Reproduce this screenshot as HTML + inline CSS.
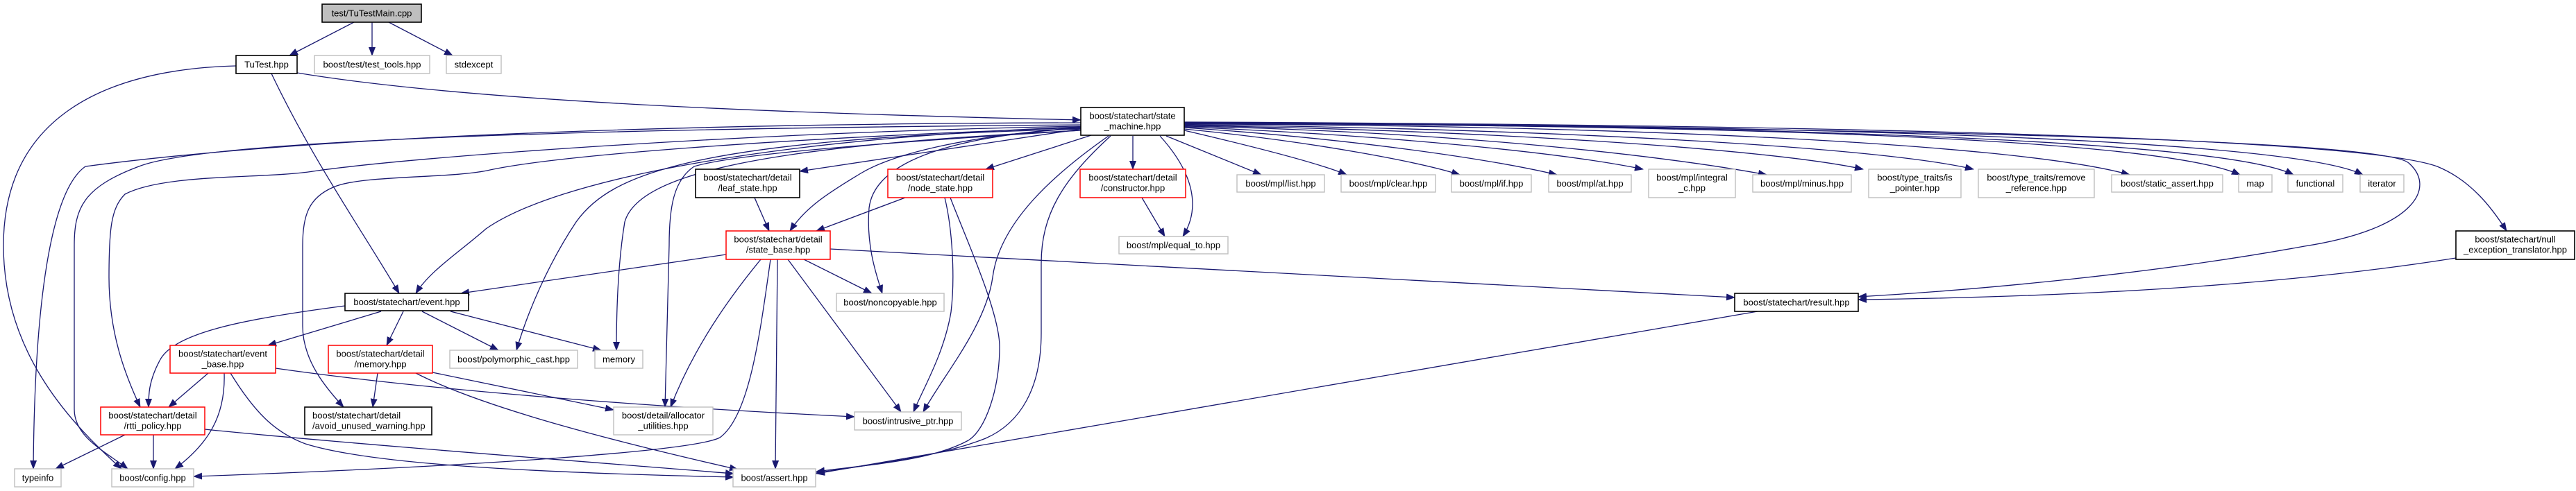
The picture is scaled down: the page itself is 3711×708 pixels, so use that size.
<!DOCTYPE html>
<html><head><meta charset="utf-8"><style>
html,body{margin:0;padding:0;background:#fff;}
svg{display:block;}
text{font-family:"Liberation Sans",sans-serif;font-size:13px;fill:#000;text-anchor:middle;}
.e{fill:none;stroke:#191970;stroke-width:1.3;marker-end:url(#a);}
.k{fill:#fff;stroke:#000;stroke-width:1.6;}
.g{fill:#fff;stroke:#bfbfbf;stroke-width:1.4;}
.r{fill:#fff;stroke:#ff0000;stroke-width:1.5;}
</style></head><body>
<svg width="3711" height="708" viewBox="0 0 3711 708" xmlns="http://www.w3.org/2000/svg">
<defs><marker id="a" markerWidth="13" markerHeight="10" refX="12" refY="5" orient="auto" markerUnits="userSpaceOnUse"><path d="M0,0 L13,5 L0,10z" fill="#191970"/></marker></defs>
<g>
<path class="e" d="M510,32 L417,80"/>
<path class="e" d="M536,32 L536,80"/>
<path class="e" d="M560,32 L652,80"/>
<path class="e" d="M428,105 C700,150 1200,165 1557,173"/>
<path class="e" d="M391,106 C450,230 520,330 575,423"/>
<path class="e" d="M340,95 C150,100 5,170 5,354 C5,500 90,600 175,676"/>
<path class="e" d="M1557,177 C1100,178 500,190 123,240 C80,270 50,400 48,676"/>
<path class="e" d="M1557,180 C900,185 300,200 200,240 C120,270 107,300 107,354 L107,590 C107,630 150,650 184,676"/>
<path class="e" d="M1557,182 C1100,190 600,225 451,247 C380,258 237,250 180,280 C160,300 157,330 157,400 C157,480 180,540 202,587"/>
<path class="e" d="M1557,184 C1100,200 800,225 706,245 C650,258 520,252 480,270 C445,285 436,310 436,354 L436,470 C436,520 470,560 495,587"/>
<path class="e" d="M1557,183 C1100,200 800,260 700,330 C660,365 620,390 599,423"/>
<path class="e" d="M1557,186 C1000,200 880,250 830,320 C790,380 760,450 744,505"/>
<path class="e" d="M1557,188 C1100,210 920,250 900,320 C890,380 888,450 888,505"/>
<path class="e" d="M1557,188 C1200,210 1050,225 1000,240 C970,260 964,300 964,354 L958,587"/>
<path class="e" d="M1557,186 L1152,247"/>
<path class="e" d="M1557,184 C1400,195 1290,220 1240,250 C1190,280 1160,300 1138,333"/>
<path class="e" d="M1557,185 C1380,195 1260,230 1252,300 C1248,350 1260,390 1271,423"/>
<path class="e" d="M1572,195 L1420,244"/>
<path class="e" d="M1597,196 C1520,250 1440,320 1430,400 C1420,470 1360,540 1330,594"/>
<path class="e" d="M1600,196 C1530,260 1500,310 1500,380 L1500,480 C1500,560 1470,610 1420,632 C1350,660 1250,670 1176,682"/>
<path class="e" d="M1632,196 L1632,244"/>
<path class="e" d="M1671,196 C1720,250 1730,300 1704,341"/>
<path class="e" d="M1680,196 L1817,252"/>
<path class="e" d="M1706,188 C1800,210 1900,235 1940,252"/>
<path class="e" d="M1706,186 C1900,205 2050,235 2103,252"/>
<path class="e" d="M1706,184 C1950,200 2150,230 2243,252"/>
<path class="e" d="M1706,183 C2000,195 2250,220 2367,244"/>
<path class="e" d="M1706,182 C2100,190 2400,225 2545,252"/>
<path class="e" d="M1706,181 C2150,188 2550,215 2684,244"/>
<path class="e" d="M1706,180 C2200,185 2700,210 2843,244"/>
<path class="e" d="M1706,179 C2300,180 2900,205 3068,252"/>
<path class="e" d="M1706,178 C2400,180 3100,195 3227,252"/>
<path class="e" d="M1706,178 C2500,180 3200,200 3304,252"/>
<path class="e" d="M1706,177 C2600,180 3300,200 3404,252"/>
<path class="e" d="M1706,176 C2700,180 3400,200 3511,240 C3560,260 3590,300 3611,333"/>
<path class="e" d="M1706,177 C2700,185 3430,200 3470,235 C3510,270 3480,330 3320,355 C3100,395 2850,418 2677,428"/>
<path class="e" d="M3538,372 C3300,410 3000,428 2677,432"/>
<path class="e" d="M1196,359 L2499,429"/>
<path class="e" d="M1046,367 L664,423"/>
<path class="e" d="M1158,374 L1256,423"/>
<path class="e" d="M1135,374 L1298,594"/>
<path class="e" d="M1120,374 L1117,676"/>
<path class="e" d="M1096,374 C1050,430 1000,500 966,587"/>
<path class="e" d="M1110,374 C1095,480 1080,600 1037,631 C1000,650 700,672 279,687"/>
<path class="e" d="M1087,285 L1108,333"/>
<path class="e" d="M1304,285 L1176,333"/>
<path class="e" d="M1361,285 C1372,330 1376,400 1370,450 C1360,510 1330,560 1316,594"/>
<path class="e" d="M1369,285 C1390,340 1440,450 1440,500 C1440,560 1420,620 1395,635 C1340,665 1250,670 1176,680"/>
<path class="e" d="M1645,285 L1678,341"/>
<path class="e" d="M549,449 L386,498"/>
<path class="e" d="M581,449 L557,498"/>
<path class="e" d="M608,449 L718,505"/>
<path class="e" d="M649,449 L866,505"/>
<path class="e" d="M497,441 C350,460 250,480 230,520 C214,550 214,570 214,587"/>
<path class="e" d="M300,538 L243,587"/>
<path class="e" d="M323,538 C325,600 300,640 252,676"/>
<path class="e" d="M332,538 C370,600 400,625 440,640 C520,665 700,680 1057,688"/>
<path class="e" d="M397,531 C600,560 900,585 1231,601"/>
<path class="e" d="M544,538 L537,587"/>
<path class="e" d="M623,537 L884,591"/>
<path class="e" d="M599,538 C700,590 900,640 1063,677"/>
<path class="e" d="M180,627 L80,676"/>
<path class="e" d="M221,627 L221,676"/>
<path class="e" d="M295,619 C500,640 900,670 1057,683"/>
<path class="e" d="M2532,449 L1176,683"/>
</g>
<g>
<rect x="464" y="6" width="143" height="26" class="k" style="fill:#bfbfbf"/><text x="535.5" y="23.5">test/TuTestMain.cpp</text>
<rect x="340" y="80" width="88" height="26" class="k"/><text x="384" y="97.5">TuTest.hpp</text>
<rect x="453" y="80" width="166" height="26" class="g"/><text x="536" y="97.5">boost/test/test_tools.hpp</text>
<rect x="643" y="80" width="79" height="26" class="g"/><text x="682.5" y="97.5">stdexcept</text>
<rect x="1557" y="155" width="149" height="40" class="k"/><text x="1631.5" y="171.5">boost/statechart/state</text><text x="1631.5" y="186.5">_machine.hpp</text>
<rect x="1002" y="244" width="150" height="41" class="k"/><text x="1077" y="260.5">boost/statechart/detail</text><text x="1077" y="275.5">/leaf_state.hpp</text>
<rect x="1279" y="244" width="151" height="41" class="r"/><text x="1354.5" y="260.5">boost/statechart/detail</text><text x="1354.5" y="275.5">/node_state.hpp</text>
<rect x="1556" y="244" width="152" height="41" class="r"/><text x="1632" y="260.5">boost/statechart/detail</text><text x="1632" y="275.5">/constructor.hpp</text>
<rect x="1782" y="252" width="126" height="25" class="g"/><text x="1845" y="269">boost/mpl/list.hpp</text>
<rect x="1932" y="252" width="136" height="25" class="g"/><text x="2000" y="269">boost/mpl/clear.hpp</text>
<rect x="2091" y="252" width="115" height="25" class="g"/><text x="2148.5" y="269">boost/mpl/if.hpp</text>
<rect x="2231" y="252" width="119" height="25" class="g"/><text x="2290.5" y="269">boost/mpl/at.hpp</text>
<rect x="2375" y="244" width="125" height="41" class="g"/><text x="2437.5" y="260.5">boost/mpl/integral</text><text x="2437.5" y="275.5">_c.hpp</text>
<rect x="2525" y="252" width="142" height="25" class="g"/><text x="2596" y="269">boost/mpl/minus.hpp</text>
<rect x="2692" y="244" width="133" height="41" class="g"/><text x="2758.5" y="260.5">boost/type_traits/is</text><text x="2758.5" y="275.5">_pointer.hpp</text>
<rect x="2850" y="244" width="167" height="41" class="g"/><text x="2933.5" y="260.5">boost/type_traits/remove</text><text x="2933.5" y="275.5">_reference.hpp</text>
<rect x="3042" y="252" width="160" height="25" class="g"/><text x="3122" y="269">boost/static_assert.hpp</text>
<rect x="3225" y="252" width="48" height="25" class="g"/><text x="3249" y="269">map</text>
<rect x="3296" y="252" width="79" height="25" class="g"/><text x="3335.5" y="269">functional</text>
<rect x="3400" y="252" width="63" height="25" class="g"/><text x="3431.5" y="269">iterator</text>
<rect x="3538" y="333" width="171" height="41" class="k"/><text x="3623.5" y="349.5">boost/statechart/null</text><text x="3623.5" y="364.5">_exception_translator.hpp</text>
<rect x="1046" y="333" width="150" height="41" class="r"/><text x="1121" y="349.5">boost/statechart/detail</text><text x="1121" y="364.5">/state_base.hpp</text>
<rect x="1612" y="341" width="157" height="25" class="g"/><text x="1690.5" y="358">boost/mpl/equal_to.hpp</text>
<rect x="497" y="423" width="178" height="25" class="k"/><text x="586" y="440">boost/statechart/event.hpp</text>
<rect x="1205" y="423" width="155" height="26" class="g"/><text x="1282.5" y="440.5">boost/noncopyable.hpp</text>
<rect x="2499" y="423" width="178" height="26" class="k"/><text x="2588" y="440.5">boost/statechart/result.hpp</text>
<rect x="245" y="498" width="152" height="40" class="r"/><text x="321" y="514.5">boost/statechart/event</text><text x="321" y="529.5">_base.hpp</text>
<rect x="473" y="498" width="150" height="40" class="r"/><text x="548" y="514.5">boost/statechart/detail</text><text x="548" y="529.5">/memory.hpp</text>
<rect x="648" y="505" width="184" height="26" class="g"/><text x="740" y="522.5">boost/polymorphic_cast.hpp</text>
<rect x="857" y="505" width="69" height="26" class="g"/><text x="891.5" y="522.5">memory</text>
<rect x="145" y="587" width="150" height="40" class="r"/><text x="220" y="603.5">boost/statechart/detail</text><text x="220" y="618.5">/rtti_policy.hpp</text>
<rect x="439" y="587" width="183" height="40" class="k"/><text x="450" y="603.5" style="text-anchor:start">boost/statechart/detail</text><text x="450" y="618.5" style="text-anchor:start">/avoid_unused_warning.hpp</text>
<rect x="884" y="587" width="143" height="40" class="g"/><text x="955.5" y="603.5">boost/detail/allocator</text><text x="955.5" y="618.5">_utilities.hpp</text>
<rect x="1231" y="594" width="154" height="26" class="g"/><text x="1308" y="611.5">boost/intrusive_ptr.hpp</text>
<rect x="21" y="676" width="67" height="26" class="g"/><text x="54.5" y="693.5">typeinfo</text>
<rect x="161" y="676" width="118" height="26" class="g"/><text x="220" y="693.5">boost/config.hpp</text>
<rect x="1056" y="676" width="119" height="26" class="g"/><text x="1115.5" y="693.5">boost/assert.hpp</text>
</g>
</svg>
</body></html>
